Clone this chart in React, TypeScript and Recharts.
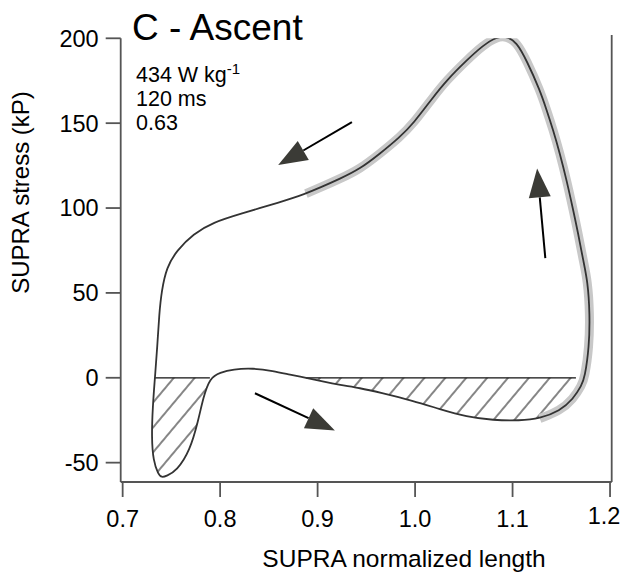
import React from "react";
import {
  ComposedChart,
  Line,
  Area,
  XAxis,
  YAxis,
  ReferenceLine,
} from "recharts";

// work loop, one cycle, starting on the left branch at zero stress
const loopLength = [
  0.7331, 0.7308, 0.7297, 0.7314, 0.7365, 0.74, 0.7451, 0.7554, 0.769, 0.7775,
  0.7827, 0.7895, 0.7998, 0.8134, 0.8336, 0.8542, 0.872, 0.888, 0.905, 0.9229,
  0.9434, 0.9639, 0.9981, 1.0254, 1.0528, 1.0801, 1.1074, 1.1279, 1.1485,
  1.1622, 1.1708, 1.174, 1.1786, 1.1793, 1.177, 1.1724, 1.1673, 1.1622, 1.1554,
  1.1485, 1.1416, 1.1349, 1.128, 1.1144, 1.1041, 1.0938, 1.0836, 1.0698,
  1.0528, 1.0323, 1.0186, 0.9981, 0.9844, 0.9639, 0.9434, 0.9229, 0.9024,
  0.888, 0.8613, 0.8203, 0.7929, 0.7724, 0.7554, 0.7451, 0.74, 0.7375, 0.7355,
  0.7331,
];
const loopStress = [
  0, -17.5, -35, -49, -56.8, -58.8, -57.8, -54.8, -43, -25.4, -11.6, 0, 3.1,
  5.1, 5.7, 4.1, 1.8, 0, -2.2, -4.3, -6, -8.7, -13.6, -18.5, -23, -25, -25.3,
  -24, -19.5, -12.5, -4.5, 0, 18.2, 37.9, 57, 69.3, 85, 98.8, 116.5, 132.2, 146,
  157.8, 169.5, 187, 197.8, 201.2, 200.8, 195.9, 187, 175.2, 165.4, 149.7,
  141.8, 132, 123, 117.2, 112, 108.5, 103.4, 96.5, 91.6, 84.8, 74.9, 65.1, 51.3,
  37.6, 17.9, 0,
];

// index ranges into the loop
const leftNegRange = [0, 11];
const rightNegRange = [17, 31];
const fitRange = [27, 57];
const rightZeroEnd = 1.165;

// arrows: [tailLength, tailStress, tipLength, tipStress]
const arrows = [
  [0.9352, 150.6, 0.8596, 125.3],
  [1.1336, 70.5, 1.1252, 123.3],
  [0.8357, -9.1, 0.9177, -31],
];

const xTicks = [0.7, 0.8, 0.9, 1.0, 1.1, 1.2];
const yTicks = [-50, 0, 50, 100, 150, 200];

const FONT = "'Liberation Sans', Arial, Helvetica, sans-serif";
const AXIS_COLOR = "#555";

const loopData = loopLength.map((x, i) => ({ x, y: loopStress[i] }));
const slice = (r: number[]) => loopData.slice(r[0], r[1] + 1);

const ArrowShape = (props: any) => {
  const { x1, y1, x2, y2 } = props;
  const dx = x2 - x1;
  const dy = y2 - y1;
  const len = Math.hypot(dx, dy) || 1;
  const ux = dx / len;
  const uy = dy / len;
  const hl = 29;
  const hw = 11;
  const bx = x2 - ux * hl;
  const by = y2 - uy * hl;
  return (
    <g>
      <line x1={x1} y1={y1} x2={bx} y2={by} stroke="#000" strokeWidth={2} />
      <polygon
        points={`${x2},${y2} ${bx - uy * hw},${by + ux * hw} ${bx + uy * hw},${by - ux * hw}`}
        fill="#3b3b36"
      />
    </g>
  );
};

// last label sits a little left and up, as in the figure
const XTick = (props: any) => {
  const { x, y, payload } = props;
  const last = payload.value === xTicks[xTicks.length - 1];
  return (
    <text
      x={x + (last ? -6 : 0)}
      y={y + (last ? -3 : 0)}
      dy="0.71em"
      textAnchor="middle"
      fill="#000"
      fontSize={23.5}
      fontFamily={FONT}
    >
      {Number(payload.value).toFixed(1)}
    </text>
  );
};

export default function App() {
  return (
    <div
      style={{
        position: "absolute",
        left: 0,
        top: 0,
        width: 624,
        height: 575,
        background: "#fff",
      }}
    >
      <svg width={0} height={0} style={{ position: "absolute" }}>
        <defs>
          <pattern
            id="hatch"
            patternUnits="userSpaceOnUse"
            width={16}
            height={16}
            patternTransform="rotate(40)"
          >
            <line x1={8} y1={0} x2={8} y2={16} stroke="#444" strokeWidth={1.3} />
          </pattern>
        </defs>
      </svg>
      <ComposedChart
        width={624}
        height={575}
        margin={{ top: 38.3, right: 12.3, bottom: 33, left: 0 }}
      >
        <XAxis
          type="number"
          dataKey="x"
          domain={[0.698, 1.2017]}
          ticks={xTicks}
          allowDataOverflow
          tickSize={15}
          tickMargin={13.5}
          height={60}
          axisLine={{ stroke: AXIS_COLOR, strokeWidth: 1.8 }}
          tickLine={{ stroke: AXIS_COLOR, strokeWidth: 1.8 }}
          tick={<XTick />}
        />
        <YAxis
          type="number"
          domain={[-61.4, 200]}
          ticks={yTicks}
          allowDataOverflow
          width={120.7}
          tickSize={15}
          tickMargin={7}
          axisLine={{ stroke: AXIS_COLOR, strokeWidth: 1.8 }}
          tickLine={{ stroke: AXIS_COLOR, strokeWidth: 1.8 }}
          tick={{ fill: "#000", fontSize: 23.5, fontFamily: FONT }}
        />
        <Area
          data={slice(leftNegRange)}
          dataKey="y"
          type="basis"
          baseValue={0}
          fill="url(#hatch)"
          fillOpacity={1}
          stroke="none"
          isAnimationActive={false}
        />
        <Area
          data={slice(rightNegRange)}
          dataKey="y"
          type="basis"
          baseValue={0}
          fill="url(#hatch)"
          fillOpacity={1}
          stroke="none"
          isAnimationActive={false}
        />
        <ReferenceLine
          segment={[
            { x: loopLength[leftNegRange[0]], y: 0 },
            { x: loopLength[leftNegRange[1]], y: 0 },
          ]}
          stroke="#111"
          strokeWidth={1.2}
        />
        <ReferenceLine
          segment={[
            { x: loopLength[rightNegRange[0]], y: 0 },
            { x: rightZeroEnd, y: 0 },
          ]}
          stroke="#111"
          strokeWidth={1.2}
        />
        <ReferenceLine
          segment={[
            { x: 1.2017, y: -61.4 },
            { x: 1.2017, y: 202 },
          ]}
          ifOverflow="visible"
          stroke={AXIS_COLOR}
          strokeWidth={1.8}
        />
        <Line
          data={slice(fitRange)}
          dataKey="y"
          type="basis"
          stroke="#c8c8c8"
          strokeWidth={9}
          dot={false}
          activeDot={false}
          isAnimationActive={false}
        />
        <Line
          data={loopData}
          dataKey="y"
          type="basis"
          stroke="#333"
          strokeWidth={1.8}
          dot={false}
          activeDot={false}
          isAnimationActive={false}
        />
        {arrows.map((a, i) => (
          <ReferenceLine
            key={i}
            segment={[
              { x: a[0], y: a[1] },
              { x: a[2], y: a[3] },
            ]}
            shape={ArrowShape}
          />
        ))}
      </ComposedChart>
      <svg
        width={624}
        height={575}
        style={{ position: "absolute", left: 0, top: 0, pointerEvents: "none" }}
        fontFamily={FONT}
        fill="#000"
      >
        <text x={132} y={40} fontSize={37}>
          C - Ascent
        </text>
        <text x={136} y={82} fontSize={21.5}>
          434 W kg
          <tspan dy={-8} fontSize={15}>
            -1
          </tspan>
        </text>
        <text x={136} y={105.5} fontSize={21.5}>
          120 ms
        </text>
        <text x={136} y={129.5} fontSize={21.5}>
          0.63
        </text>
        <text x={404} y={566.5} fontSize={24.5} textAnchor="middle">
          SUPRA normalized length
        </text>
        <text
          transform="translate(28.5,192.5) rotate(-90)"
          fontSize={24}
          textAnchor="middle"
        >
          SUPRA stress (kP)
        </text>
      </svg>
    </div>
  );
}
